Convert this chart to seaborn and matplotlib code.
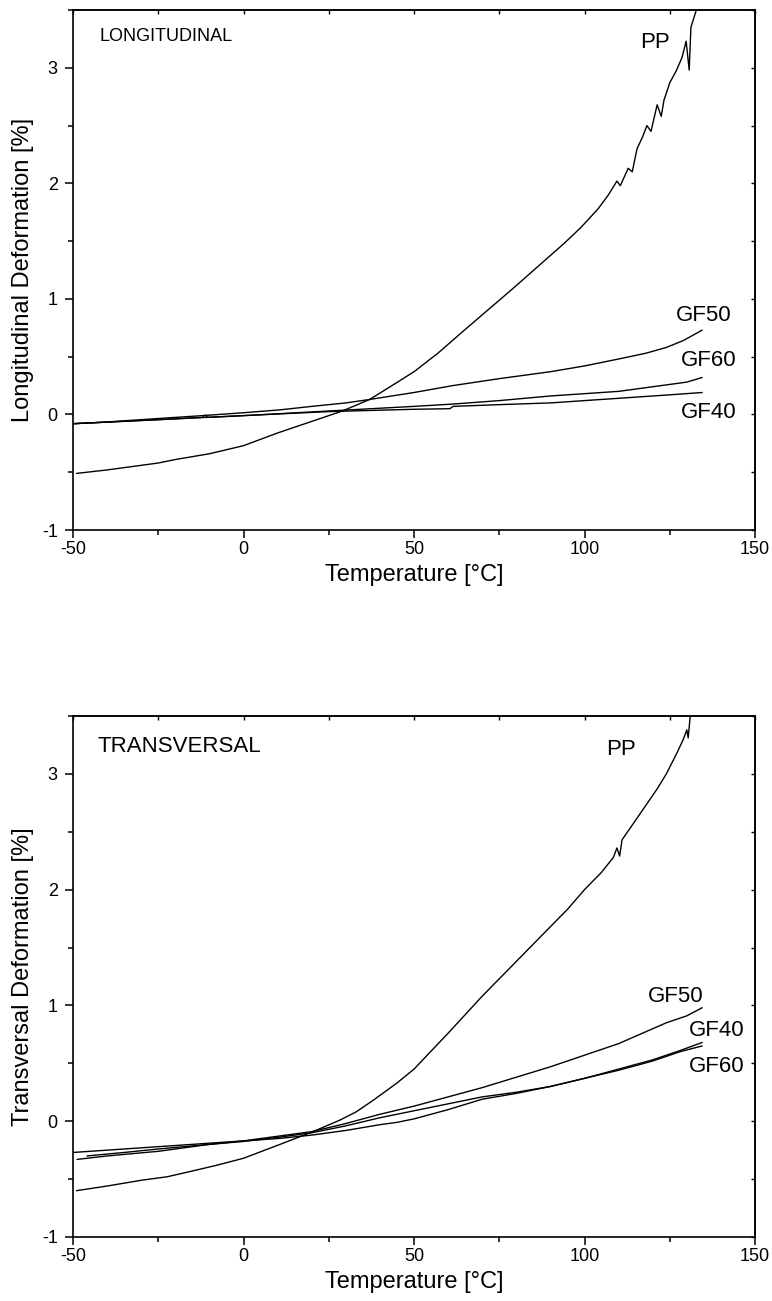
import numpy as np
import pandas as pd
import matplotlib
matplotlib.use('Agg')
import matplotlib.pyplot as plt
from matplotlib.ticker import MultipleLocator
import seaborn as sns

# temperature [°C] and deformation [%]
# --- longitudinal ---
long_pp_t = [-49, -40, -30, -25, -20, -10, 0, 10, 20, 29, 37, 43, 50, 57, 64, 79, 94, 99,
             104, 107, 109.5, 110.5, 112.8, 114, 115.4, 117, 118.3, 119.5, 121.3, 122.5,
             123.3, 125, 127, 128.6, 129.8, 130.7, 131.2, 133]
long_pp_v = [-0.51, -0.48, -0.44, -0.42, -0.39, -0.34, -0.27, -0.16, -0.06, 0.03, 0.13,
             0.24, 0.37, 0.53, 0.71, 1.09, 1.48, 1.62, 1.78, 1.9, 2.02, 1.98, 2.13, 2.10,
             2.30, 2.40, 2.50, 2.45, 2.68, 2.58, 2.72, 2.87, 2.98, 3.09, 3.23, 2.98, 3.35,
             3.52]

long_gf50_t = [-50, -40, -25, -12, 0, 10.7, 20, 30, 37, 50, 61.4, 75, 90, 100, 110,
               118, 124, 129, 134.5]
long_gf50_v = [-0.08, -0.065, -0.035, -0.01, 0.015, 0.04, 0.07, 0.10, 0.13, 0.19, 0.25,
               0.31, 0.37, 0.42, 0.48, 0.53, 0.58, 0.64, 0.73]

long_gf60_t = [-50, -25, 0, 25, 50, 61.4, 75, 90, 110, 120, 130, 134.5]
long_gf60_v = [-0.08, -0.045, -0.01, 0.03, 0.07, 0.09, 0.12, 0.16, 0.20, 0.24, 0.28, 0.32]

long_gf40_t = [-50, -25, -12, -11.3, -10.5, 0, 25, 50, 60.5, 61.5, 75, 90, 110, 125, 134.5]
long_gf40_v = [-0.08, -0.045, -0.025, -0.005, -0.025, -0.01, 0.025, 0.045, 0.05, 0.07,
               0.085, 0.10, 0.14, 0.17, 0.19]

# --- transversal ---
tran_pp_t = [-49, -40, -30, -22.4, -15, -7.8, 0, 11.6, 20.4, 28.3, 33, 38, 45, 50, 60,
             70, 80, 90, 95, 100, 105, 108.5, 109.5, 110.3, 111, 115, 121.3, 124, 127.1,
             129, 130, 130.4, 131]
tran_pp_v = [-0.60, -0.56, -0.51, -0.48, -0.43, -0.38, -0.32, -0.19, -0.09, 0.01, 0.08,
             0.18, 0.33, 0.45, 0.76, 1.08, 1.38, 1.68, 1.83, 2.0, 2.15, 2.28, 2.36, 2.29,
             2.43, 2.60, 2.87, 3.00, 3.18, 3.30, 3.38, 3.31, 3.50]

tran_gf50_t = [-48.8, -40, -25, -10, 0, 10, 20, 30, 40, 50, 60, 70, 80, 90, 100, 110,
               124, 130, 134.5]
tran_gf50_v = [-0.33, -0.30, -0.26, -0.20, -0.17, -0.13, -0.09, -0.02, 0.06, 0.13, 0.21,
               0.29, 0.38, 0.47, 0.57, 0.67, 0.85, 0.91, 0.98]

tran_gf40_t = [-45.9, -35, -25, -10, 0, 10, 20, 30, 40, 50, 60, 70, 80, 90, 100, 110,
               120, 128, 134.5]
tran_gf40_v = [-0.30, -0.27, -0.24, -0.20, -0.175, -0.14, -0.10, -0.04, 0.03, 0.09, 0.15,
               0.21, 0.25, 0.30, 0.37, 0.45, 0.53, 0.61, 0.68]

tran_gf60_t = [-50, -40, -25, -10, 0, 10, 20, 30, 40, 45, 50, 55, 60, 70, 80, 90, 100,
               110, 120, 128, 134.5]
tran_gf60_v = [-0.27, -0.25, -0.22, -0.19, -0.17, -0.15, -0.12, -0.08, -0.03, -0.01, 0.02,
               0.06, 0.10, 0.19, 0.24, 0.30, 0.37, 0.44, 0.52, 0.60, 0.65]

x_ticks = [-50, 0, 50, 100, 150]
y_ticks = [-1, 0, 1, 2, 3]

sns.set_theme(style='ticks')
plt.rcParams['font.family'] = ['Liberation Sans', 'DejaVu Sans']
plt.rcParams['axes.unicode_minus'] = False
plt.rcParams['text.color'] = 'black'
plt.rcParams['axes.labelcolor'] = 'black'
plt.rcParams['xtick.color'] = 'black'
plt.rcParams['ytick.color'] = 'black'


def make_df(series):
    frames = []
    for name, t, v in series:
        frames.append(pd.DataFrame({'T': t, 'v': v, 'name': name}))
    return pd.concat(frames, ignore_index=True)


def style_axis(ax, ylabel):
    ax.set_xlim(-50, 150)
    ax.set_ylim(-1, 3.5)
    ax.set_xticks(x_ticks, labels=[str(t) for t in x_ticks])
    ax.set_yticks(y_ticks, labels=[str(t) for t in y_ticks])
    ax.xaxis.set_minor_locator(MultipleLocator(25))
    ax.yaxis.set_minor_locator(MultipleLocator(0.5))
    ax.tick_params(which='major', direction='out', length=6, width=1.1,
                   labelsize=13, color='black', labelcolor='black')
    ax.tick_params(axis='x', which='major', pad=2)
    ax.tick_params(axis='y', which='major', pad=5)
    ax.tick_params(which='minor', direction='out', length=3.5, width=1.1, color='black')
    for s in ax.spines.values():
        s.set_visible(True)
        s.set_linewidth(1.2)
        s.set_color('black')
    # small inward ticks on top / right
    top = ax.secondary_xaxis('top')
    top.set_xticks(x_ticks, labels=[])
    top.xaxis.set_minor_locator(MultipleLocator(25))
    top.tick_params(which='both', direction='in', length=3, width=1.0, color='black')
    right = ax.secondary_yaxis('right')
    right.set_yticks(y_ticks, labels=[])
    right.yaxis.set_minor_locator(MultipleLocator(0.5))
    right.tick_params(which='both', direction='in', length=3, width=1.0, color='black')
    ax.set_xlabel('Temperature [°C]', fontsize=17, labelpad=4, color='black')
    ax.set_ylabel(ylabel, fontsize=17, labelpad=6, color='black')
    ax.grid(False)


fig = plt.figure(figsize=(7.72, 13.01), dpi=100)
ax1 = fig.add_axes([0.0946, 0.5926, 0.8834, 0.3997])
ax2 = fig.add_axes([0.0946, 0.0492, 0.8834, 0.4005])

long_df = make_df([('PP', long_pp_t, long_pp_v), ('GF50', long_gf50_t, long_gf50_v),
                   ('GF60', long_gf60_t, long_gf60_v), ('GF40', long_gf40_t, long_gf40_v)])
tran_df = make_df([('PP', tran_pp_t, tran_pp_v), ('GF50', tran_gf50_t, tran_gf50_v),
                   ('GF40', tran_gf40_t, tran_gf40_v), ('GF60', tran_gf60_t, tran_gf60_v)])

pal = {'PP': 'black', 'GF50': 'black', 'GF60': 'black', 'GF40': 'black'}
sns.lineplot(data=long_df, x='T', y='v', hue='name', units='name', estimator=None,
             sort=False, palette=pal, linewidth=1.0, legend=False, ax=ax1)
sns.lineplot(data=tran_df, x='T', y='v', hue='name', units='name', estimator=None,
             sort=False, palette=pal, linewidth=1.0, legend=False, ax=ax2)

style_axis(ax1, 'Longitudinal Deformation [%]')
style_axis(ax2, 'Transversal Deformation [%]')

ax1.text(-42.1, 3.27, 'LONGITUDINAL', fontsize=13, va='center', ha='left')
ax1.text(120.7, 3.22, 'PP', fontsize=16, va='center', ha='center')
ax1.text(135, 0.86, 'GF50', fontsize=16, va='center', ha='center')
ax1.text(136.5, 0.47, 'GF60', fontsize=16, va='center', ha='center')
ax1.text(136.5, 0.02, 'GF40', fontsize=16, va='center', ha='center')

ax2.text(-42.8, 3.24, 'TRANSVERSAL', fontsize=16, va='center', ha='left')
ax2.text(110.7, 3.21, 'PP', fontsize=16, va='center', ha='center')
ax2.text(126.8, 1.08, 'GF50', fontsize=16, va='center', ha='center')
ax2.text(138.9, 0.78, 'GF40', fontsize=16, va='center', ha='center')
ax2.text(138.9, 0.47, 'GF60', fontsize=16, va='center', ha='center')

fig.savefig('out.png', dpi=100, facecolor='white')
